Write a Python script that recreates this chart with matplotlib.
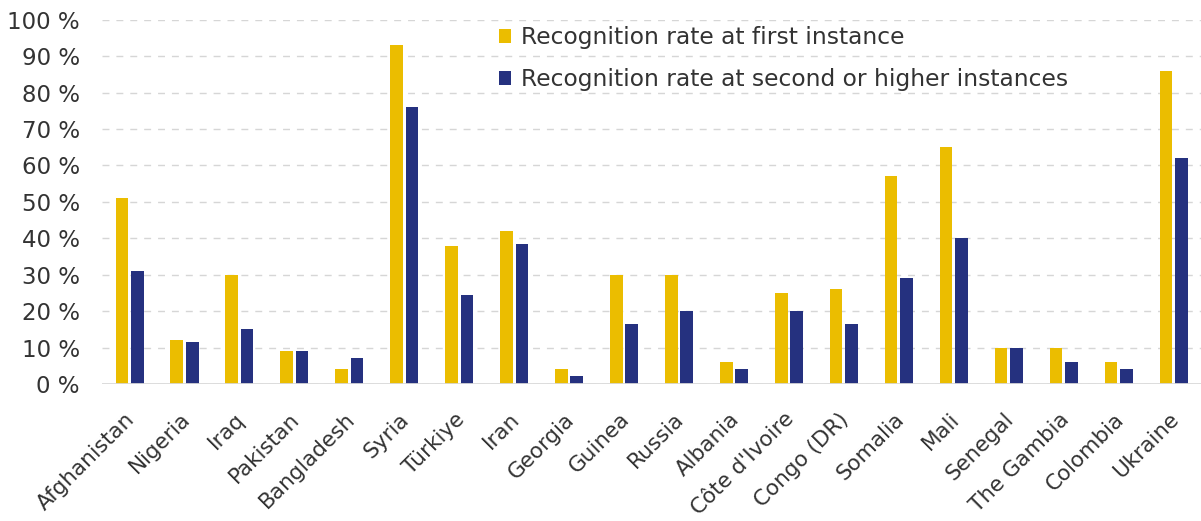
import numpy as np
import matplotlib
matplotlib.use("Agg")
import matplotlib.pyplot as plt
from matplotlib.transforms import ScaledTranslation

countries = ["Afghanistan", "Nigeria", "Iraq", "Pakistan", "Bangladesh", "Syria",
             "Türkiye", "Iran", "Georgia", "Guinea", "Russia", "Albania",
             "Côte d'Ivoire", "Congo (DR)", "Somalia", "Mali", "Senegal",
             "The Gambia", "Colombia", "Ukraine"]
first_instance = [51, 12, 30, 9, 4, 93, 38, 42, 4, 30, 30, 6, 25, 26, 57, 65, 10, 10, 6, 86]
second_instance = [31, 11.5, 15, 9, 7, 76, 24.5, 38.5, 2.3, 16.5, 20, 4, 20, 16.5, 29, 40, 10, 6, 4, 62]
legend_labels = ["Recognition rate at first instance",
                 "Recognition rate at second or higher instances"]

plt.rcParams['font.family'] = ['DejaVu Sans']
text_col = "#333333"
yellow = "#ebbd00"
navy = "#25317f"

fig = plt.figure(figsize=(12.01, 5.21), dpi=100)
ax = fig.add_axes([0.085, 0.263, 0.915, 0.699])

x = np.arange(len(countries))
w = 0.23
ax.bar(x - w / 2 - 0.025, first_instance, w, color=yellow, label=legend_labels[0], zorder=3)
ax.bar(x + w / 2 + 0.025, second_instance, w, color=navy, label=legend_labels[1], zorder=3)

ax.set_xlim(-0.5, len(countries) - 0.5)
ax.set_ylim(0, 100)
ax.set_yticks(range(0, 101, 10))
ax.set_yticklabels([f"{v} %" for v in range(0, 101, 10)])
ax.yaxis.grid(True, linestyle=(0, (5, 5)), color="#d6d6d6", linewidth=1, zorder=0)
ax.axhline(0, color="#d9d9d9", linewidth=2, zorder=4)

for s in ax.spines.values():
    s.set_visible(False)
ax.tick_params(axis="both", length=0, colors=text_col)
ax.tick_params(axis="y", pad=16, labelsize=16.5)

ax.set_xticks(x)
ax.set_xticklabels(countries, rotation=45, ha="right", rotation_mode="anchor", fontsize=15.5)
ax.tick_params(axis="x", pad=18)
shift = ScaledTranslation(-5 / 100, 0, fig.dpi_scale_trans)
for lab in ax.get_xticklabels():
    lab.set_transform(lab.get_transform() + shift)

leg = ax.legend(loc="upper left", bbox_to_anchor=(0.348, 1.022), frameon=False,
                fontsize=16.8, handlelength=0.55, handleheight=0.55, handletextpad=0.4,
                labelspacing=0.82, labelcolor=text_col, borderaxespad=0.2)

plt.savefig("out.png", dpi=100)
